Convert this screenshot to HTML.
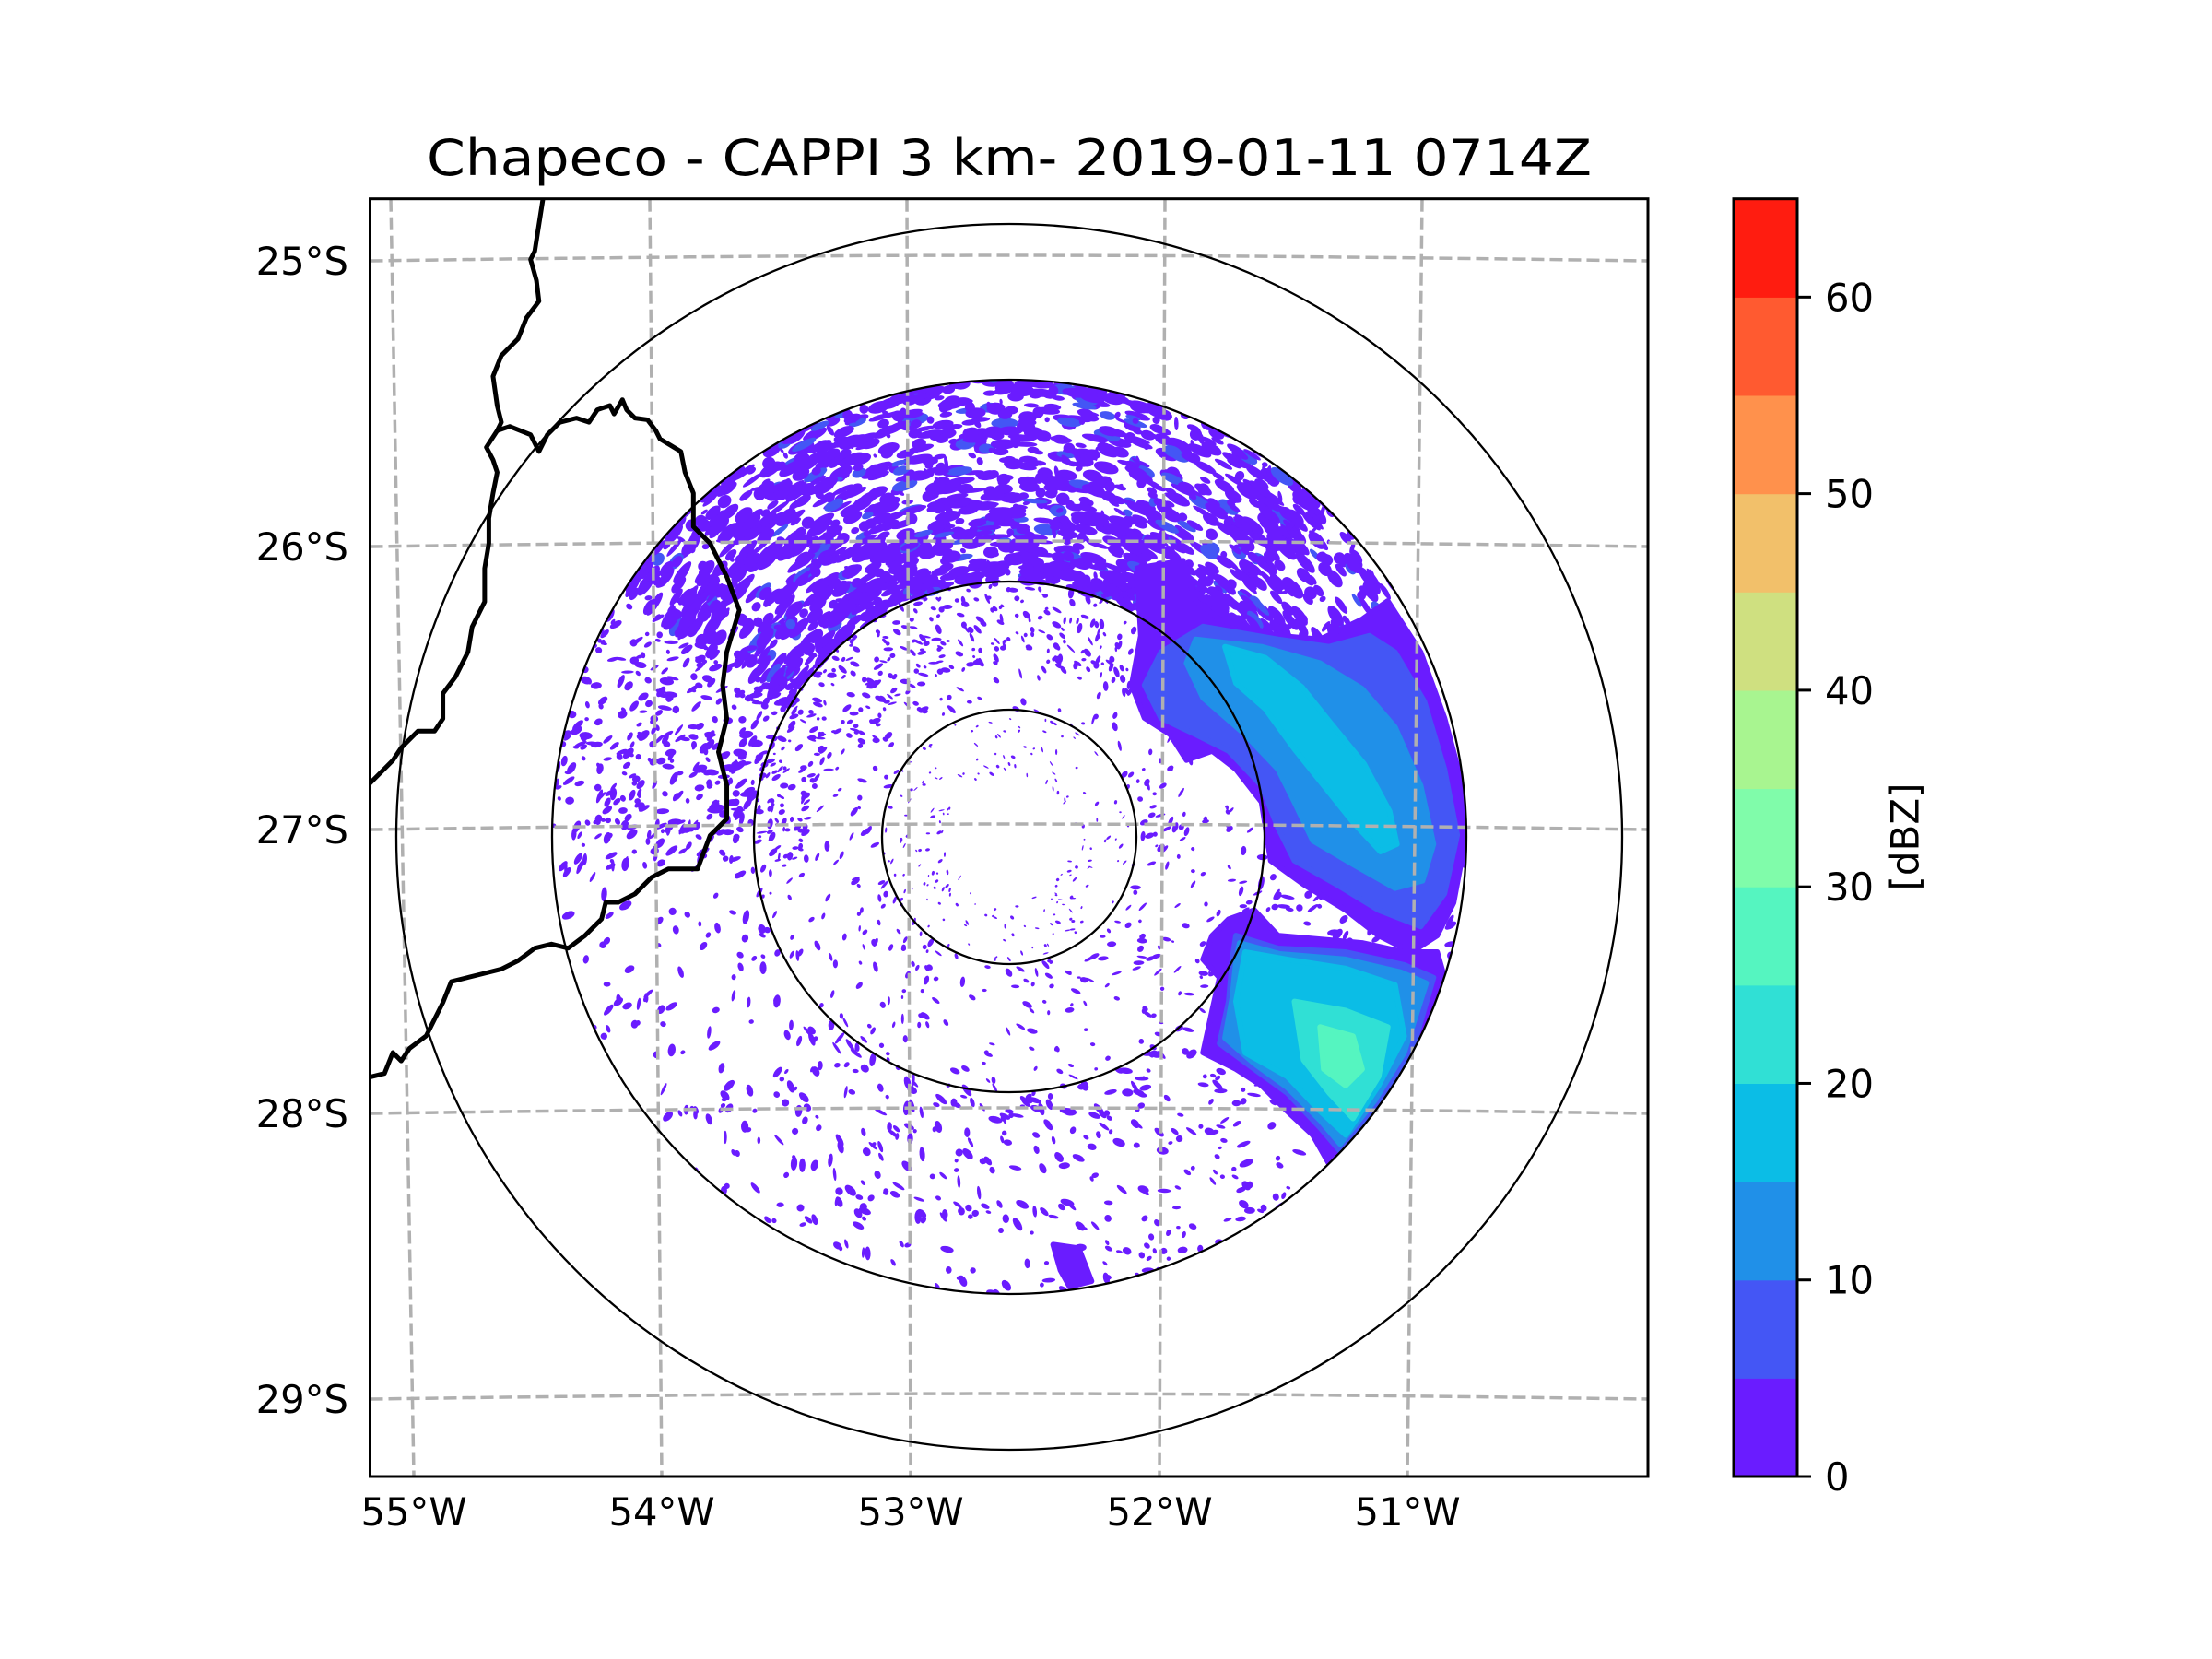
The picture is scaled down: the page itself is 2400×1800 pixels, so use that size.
<!DOCTYPE html>
<html><head><meta charset="utf-8"><style>
html,body{margin:0;padding:0;background:#fff}
svg{display:block}
text{font-family:"DejaVu Sans","Liberation Sans",sans-serif;fill:#000}
</style></head><body>
<svg id="fig" width="2400" height="1800" viewBox="0 0 2400 1800" xmlns="http://www.w3.org/2000/svg">
<rect x="0" y="0" width="2400" height="1800" fill="#fff"/>
<text x="1095" y="190" font-size="54" text-anchor="middle" textLength="1264" lengthAdjust="spacingAndGlyphs">Chapeco - CAPPI 3 km- 2019-01-11 0714Z</text>
<defs>
<clipPath id="axclip"><rect x="401.5" y="215.7" width="1386.5" height="1386.3"/></clipPath>
<clipPath id="radclip"><circle cx="1095" cy="908" r="496"/></clipPath>
</defs>
<g id="plot" clip-path="url(#axclip)">
<g id="echoes" clip-path="url(#radclip)"></g>
<g id="grid"></g>
<g id="rings"></g>
<g transform="translate(390,200) scale(0.9058)" fill="none" stroke="#000" stroke-width="5.5" stroke-linejoin="round">
<path d="M220,16 L210,80 L205,90 L212,115 L215,140 L200,160 L190,185 L170,205 L160,230 L165,265 L170,285 L165,295 L152,315 L160,330 L165,345 L160,370 L155,400 L155,430 L150,460 L150,500 L135,530 L130,560 L115,590 L100,610 L100,640 L90,655 L70,655 L50,675 L40,690 L10,720"/>
<path d="M165,295 L180,290 L205,300 L215,320 L225,300 L240,285 L260,280 L275,285 L285,270 L300,265 L305,275 L315,258 L320,270 L330,280 L345,282 L355,295 L360,305 L385,320 L390,345 L400,370 L400,410 L420,430 L440,470 L455,510 L440,560 L435,600 L440,640 L430,680 L440,720 L440,760 L420,780 L405,820 L370,820 L350,830 L330,850 L310,860 L295,860 L290,880 L270,900 L250,915 L230,910 L210,915 L190,930 L170,940 L150,945 L130,950 L110,955 L100,980 L90,1000 L80,1020 L60,1035 L50,1050 L40,1040 L30,1065 L10,1070"/>
</g>
</g>
<rect x="401.5" y="215.7" width="1386.5" height="1386.3" fill="none" stroke="#000" stroke-width="3"/>
<g id="yticks"></g>
<g id="xticks"></g>
<g id="cbar"></g>
<text x="2070" y="908" font-size="42" text-anchor="middle" dominant-baseline="middle" transform="rotate(-90 2070 908)">[dBZ]</text>
</svg>
<script>
// ---- data ----
const levels = [0,5,10,15,20,25,30,35,40,45,50,55,60,65];
const levelColors = ['#6a1cff','#4456f5','#2090e8','#0bbde6','#30e0d5','#55f5c0','#80fcaa','#a8f590','#cfe080','#f2c06a','#ff914c','#ff5a30','#ff1c10'];
const cbarTicks = [0,10,20,30,40,50,60];
const latTicks = [25,26,27,28,29];
const latTickLabels = ['25°S','26°S','27°S','28°S','29°S'];
const lonTicks = [55,54,53,52,51];
const lonTickLabels = ['55°W','54°W','53°W','52°W','51°W'];
const ringRangesKm = [70,140,250,335];
// storm contours: points in km east/north of radar
const upper0 = [[70,147],[95,151],[102,129],[115,119],[147,110],[170,108],[193,119],[207,129],[225,101],[238,65],[248,28],[249,-4],[243,-36],[234,-54],[220,-63],[202,-54],[184,-40],[161,-26],[143,-13],[138,19],[124,37],[111,47],[97,42],[88,56],[74,65],[67,83],[72,110]];
const upper5 = [[83,101],[106,115],[147,108],[175,104],[197,110],[211,101],[227,74],[238,37],[245,1],[238,-31],[225,-49],[202,-40],[179,-26],[156,-13],[147,5],[138,28],[120,47],[102,56],[83,65],[74,83]];
const upper10 = [[102,108],[138,104],[170,95],[193,81],[211,60],[225,28],[232,-4],[226,-24],[211,-28],[188,-15],[166,-2],[156,19],[147,37],[129,56],[106,76],[97,95]];
const upper15 = [[118,104],[140,98],[160,82],[176,62],[194,40],[208,14],[212,-4],[203,-8],[188,8],[172,28],[156,48],[140,70],[124,84]];
const lower0 = [[120,-45],[134,-40],[147,-54],[170,-56],[193,-58],[216,-63],[234,-63],[238,-77],[225,-122],[207,-150],[188,-168],[175,-179],[166,-163],[152,-150],[138,-136],[124,-127],[106,-118],[111,-95],[115,-77],[106,-67],[111,-54]];
const lower5 = [[124,-54],[147,-61],[184,-63],[216,-70],[232,-77],[220,-118],[202,-145],[181,-172],[170,-159],[152,-140],[134,-127],[115,-113],[120,-90],[122,-67]];
const lower10 = [[126,-58],[148,-64],[184,-67],[214,-74],[228,-80],[216,-118],[200,-144],[181,-168],[170,-155],[152,-137],[134,-124],[118,-110],[122,-88],[124,-68]];
const lower15 = [[129,-63],[152,-67],[184,-72],[211,-81],[216,-109],[202,-136],[184,-163],[170,-150],[152,-131],[129,-118],[124,-90]];
const lower20 = [[156,-90],[184,-95],[207,-104],[202,-131],[188,-154],[175,-140],[161,-122]];
const lower25 = [[170,-104],[188,-109],[193,-127],[184,-136],[172,-127]];
const south0 = [[24,-223],[38,-225],[45,-243],[33,-246],[28,-237]];
const stormLevels = [0,5,10,15,0,5,10,15,20,25,0];
const stormShapes = [upper0,upper5,upper10,upper15,lower0,lower5,lower10,lower15,lower20,lower25,south0];
// clutter sectors: azimuth start, azimuth end, range min km, range max km, count, dense flag
const clutterAzStart = [-58,-95,0,100,40,-60];
const clutterAzEnd = [45,-58,360,230,60,40];
const clutterRMin = [140,110,35,140,150,95];
const clutterRMax = [252,252,250,252,252,145];
const clutterCount = [1450,380,1300,300,150,220];
const clutterDense = [1,0,0,0,1,0];

// ---- scales ----
const CX=1095, CY=908, PXKM=496/250;
const AX0=401.5, AY0=215.7, AW=1386.5, AH=1386.3;
function kx(x){return CX+x*PXKM;}
function ky(y){return CY-y*PXKM;}
function latY(i,frac){const yL=[283,593,900,1208,1518][i];return yL-6*Math.sin(Math.PI*frac);}
const lonTop=[424,705,984,1264,1543], lonBot=[449,718,988,1258,1527];
function cbarY(v){return AY0+AH - (v-levels[0])/(levels[levels.length-1]-levels[0])*AH;}
function colorFor(v){let i=levels.findIndex((l,j)=>v>=l && v<levels[j+1]);return levelColors[Math.max(0,i)];}
const NS='http://www.w3.org/2000/svg';
function mk(tag,attrs,parent){const e=document.createElementNS(NS,tag);for(const k in attrs)e.setAttribute(k,attrs[k]);parent.appendChild(e);return e;}

// ---- clutter texture ----
const echoes=document.getElementById('echoes');
let seed=12345;function rnd(){seed=(seed*1103515245+12345)%2147483648;return seed/2147483648;}
for(let si=0;si<clutterCount.length;si++){
  for(let n=0;n<clutterCount[si];n++){
    const az=(clutterAzStart[si]+rnd()*(clutterAzEnd[si]-clutterAzStart[si]))*Math.PI/180;
    const r=clutterRMin[si]+rnd()*(clutterRMax[si]-clutterRMin[si]);
    const dense=clutterDense[si]===1;
    const scale=r<70?0.4:(r<140?0.75:1);
    const rx=(dense?2.5+rnd()*5:1+rnd()*3)*scale, ry=(dense?1.2+rnd()*2.2:0.8+rnd()*1.3)*scale;
    const ex=r*Math.sin(az), ey=r*Math.cos(az);
    const v=dense&&rnd()<0.08?7:2;
    const px=kx(ex).toFixed(1), py=ky(ey).toFixed(1);
    const e=mk('ellipse',{cx:px,cy:py,rx:(rx*PXKM).toFixed(1),ry:(ry*PXKM).toFixed(1),fill:colorFor(v),transform:'rotate('+(az*180/Math.PI+(dense?0:(rnd()*90))).toFixed(1)+' '+px+' '+py+')'},echoes);
    
    
  }
}
// ---- storm contours ----
stormShapes.forEach((shape,i)=>{
  const pts=shape.map(p=>kx(p[0]).toFixed(1)+','+ky(p[1]).toFixed(1)).join(' ');
  const c=colorFor(stormLevels[i]+1);
  const p=mk('polygon',{points:pts,fill:c,stroke:c,'stroke-width':6,'stroke-linejoin':'round'},echoes);
  
  
});
// ---- gridlines ----
const grid=document.getElementById('grid');
latTicks.forEach((t,i)=>{
  let d='';for(let k=0;k<=20;k++){const f=k/20;d+=(k?'L':'M')+(AX0+f*AW).toFixed(1)+','+latY(i,f).toFixed(1);}
  const p=mk('path',{d:d,fill:'none',stroke:'#b0b0b0','stroke-width':3.5,'stroke-dasharray':'14,6'},grid);
  
  
});
lonTicks.forEach((t,i)=>{
  const p=mk('line',{x1:lonTop[i],y1:AY0,x2:lonBot[i],y2:AY0+AH,stroke:'#b0b0b0','stroke-width':3.5,'stroke-dasharray':'14,6'},grid);
  
  
});
// ---- range rings ----
const rings=document.getElementById('rings');
const ringPx=[138,277,496,665];
ringRangesKm.forEach((r,i)=>{
  const c=mk('circle',{cx:CX,cy:CY,r:ringPx[i],fill:'none',stroke:'#000','stroke-width':2.3},rings);
  
  
});
// ---- axis labels ----
const yt=document.getElementById('yticks');
latTickLabels.forEach((l,i)=>{
  const t=mk('text',{x:378,y:latY(i,0)+15,'font-size':41.7,'text-anchor':'end'},yt);t.textContent=l;
  
  
});
const xt=document.getElementById('xticks');
lonTickLabels.forEach((l,i)=>{
  const t=mk('text',{x:lonBot[i],y:1655,'font-size':41.7,'text-anchor':'middle'},xt);t.textContent=l;
  
  
});
// ---- colorbar ----
const cb=document.getElementById('cbar');
for(let i=0;i<levelColors.length;i++){
  const y1=cbarY(levels[i+1]), y0=cbarY(levels[i]);
  const r=mk('rect',{x:1881,y:y1.toFixed(1),width:69,height:(y0-y1+0.6).toFixed(1),fill:levelColors[i]},cb);
  
  
}
const fr=mk('rect',{x:1881,y:AY0,width:69,height:AH,fill:'none',stroke:'#000','stroke-width':3},cb);


cbarTicks.forEach(v=>{
  const y=cbarY(v);
  const tk=mk('line',{x1:1950,y1:y,x2:1965,y2:y,stroke:'#000','stroke-width':3},cb);
  
  
  const t=mk('text',{x:1980,y:y+15,'font-size':41.7},cb);t.textContent=String(v);
  
  
});
</script>
</body></html>
